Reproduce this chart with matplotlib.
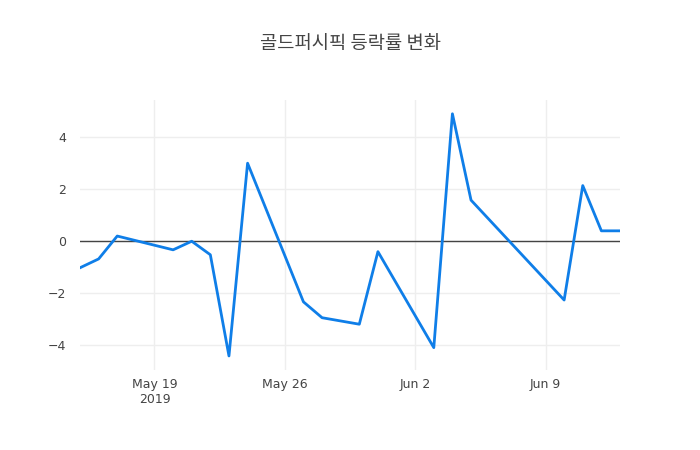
import matplotlib
matplotlib.use("Agg")
import matplotlib.pyplot as plt
import numpy as np

plt.rcParams['font.family'] = ['DejaVu Sans', 'Noto Sans CJK KR']

dates = np.array(["2019-05-15", "2019-05-16", "2019-05-17", "2019-05-20", "2019-05-21",
                  "2019-05-22", "2019-05-23", "2019-05-24", "2019-05-27", "2019-05-28",
                  "2019-05-30", "2019-05-31", "2019-06-03", "2019-06-04", "2019-06-05",
                  "2019-06-10", "2019-06-11", "2019-06-12", "2019-06-13"], dtype="datetime64[D]")
rates = [-1.02, -0.68, 0.20, -0.33, 0.0,
         -0.52, -4.41, 3.0, -2.33, -2.94,
         -3.19, -0.40, -4.09, 4.90, 1.58,
         -2.26, 2.14, 0.40, 0.40]
title = "골드퍼시픽 등락률 변화"

fig = plt.figure(figsize=(7, 4.5), dpi=100)
ax = fig.add_axes([80 / 700, 80 / 450, 540 / 700, 270 / 450])

ax.plot(dates, rates, color="#0f7ee8", linewidth=2, zorder=3)
ax.axhline(0, color="#444444", linewidth=1, zorder=2)

ax.set_xlim(dates[0], dates[-1])
ax.set_ylim(-4.95, 5.43)
ax.set_yticks([-4, -2, 0, 2, 4])
ax.set_yticklabels(["\u22124", "\u22122", "0", "2", "4"])

xt = np.array(["2019-05-19", "2019-05-26", "2019-06-02", "2019-06-09"], dtype="datetime64[D]")
ax.set_xticks(xt)
ax.set_xticklabels(["May 19\n2019", "May 26", "Jun 2", "Jun 9"])

ax.grid(True, color="#eeeeee", linewidth=1, zorder=0)
for s in ax.spines.values():
    s.set_visible(False)
ax.tick_params(length=0, labelsize=9, colors="#444444", pad=6)
ax.tick_params(axis="y", pad=10)

fig.text(0.5, 1 - 44 / 450, title, ha="center", va="center", fontsize=13.5,
         color="#444444", family=["Noto Sans CJK KR", "DejaVu Sans"])

fig.savefig("out.png", dpi=100, facecolor="white")
